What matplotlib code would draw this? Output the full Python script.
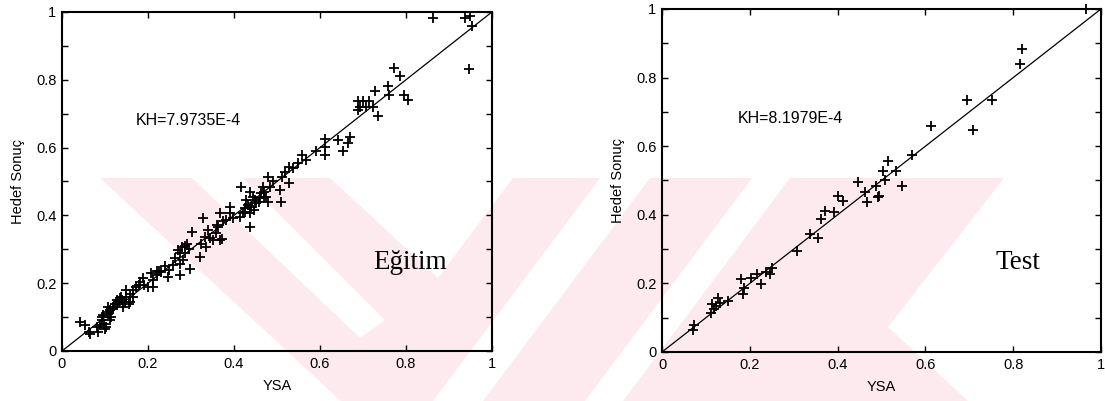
import matplotlib
matplotlib.use('Agg')
import matplotlib.pyplot as plt
from matplotlib.patches import Polygon
from matplotlib.ticker import MultipleLocator, FuncFormatter

# Egitim (training) set: network output (YSA) vs target (Hedef Sonuc)
egitim_ysa = [0.862, 0.938, 0.949, 0.954, 0.946, 0.772, 0.785, 0.758, 0.761, 0.727,
              0.796, 0.804, 0.688, 0.700, 0.715, 0.692, 0.707, 0.723, 0.688, 0.734,
              0.611, 0.611, 0.611, 0.642, 0.669, 0.665, 0.653, 0.591, 0.559, 0.568,
              0.548, 0.537, 0.529, 0.518, 0.529, 0.512, 0.479, 0.491, 0.483, 0.467,
              0.471, 0.463, 0.475, 0.460, 0.506, 0.510, 0.479, 0.417, 0.437, 0.444,
              0.429, 0.448, 0.432, 0.440, 0.425, 0.452, 0.421, 0.437, 0.446, 0.437,
              0.390, 0.390, 0.382, 0.398, 0.367, 0.375, 0.363, 0.359, 0.367, 0.351,
              0.339, 0.328, 0.332, 0.344, 0.324, 0.336, 0.303, 0.320, 0.290, 0.279,
              0.275, 0.286, 0.282, 0.270, 0.262, 0.275, 0.258, 0.250, 0.274, 0.247,
              0.297, 0.231, 0.220, 0.208, 0.212, 0.200, 0.212, 0.220, 0.189, 0.181,
              0.173, 0.166, 0.158, 0.150, 0.146, 0.135, 0.131, 0.123, 0.143, 0.119,
              0.107, 0.104, 0.096, 0.111, 0.092, 0.088, 0.100, 0.084, 0.042, 0.053,
              0.063, 0.065, 0.150, 0.158, 0.166, 0.127, 0.111, 0.115, 0.140, 0.155,
              0.097, 0.102, 0.108, 0.470, 0.458, 0.425, 0.415, 0.360, 0.372, 0.295,
              0.285, 0.240, 0.226, 0.190, 0.180, 0.137, 0.128, 0.118, 0.093, 0.081]
egitim_hedef = [0.981, 0.981, 0.987, 0.958, 0.833, 0.835, 0.810, 0.782, 0.756, 0.768,
                0.756, 0.739, 0.736, 0.736, 0.736, 0.721, 0.721, 0.721, 0.711, 0.692,
                0.625, 0.603, 0.578, 0.623, 0.632, 0.614, 0.589, 0.589, 0.578, 0.564,
                0.554, 0.539, 0.544, 0.529, 0.497, 0.514, 0.514, 0.500, 0.485, 0.485,
                0.470, 0.465, 0.455, 0.450, 0.475, 0.440, 0.440, 0.485, 0.470, 0.455,
                0.445, 0.445, 0.431, 0.426, 0.421, 0.436, 0.406, 0.406, 0.416, 0.367,
                0.426, 0.406, 0.386, 0.391, 0.406, 0.382, 0.367, 0.347, 0.327, 0.327,
                0.357, 0.391, 0.337, 0.332, 0.317, 0.307, 0.352, 0.278, 0.317, 0.307,
                0.288, 0.288, 0.268, 0.298, 0.273, 0.258, 0.253, 0.238, 0.224, 0.219,
                0.243, 0.234, 0.224, 0.229, 0.209, 0.189, 0.189, 0.236, 0.214, 0.204,
                0.189, 0.179, 0.169, 0.160, 0.145, 0.155, 0.145, 0.140, 0.130, 0.130,
                0.130, 0.115, 0.105, 0.091, 0.091, 0.076, 0.066, 0.056, 0.086, 0.076,
                0.056, 0.051, 0.179, 0.145, 0.160, 0.150, 0.120, 0.100, 0.150, 0.140,
                0.080, 0.070, 0.110, 0.455, 0.440, 0.410, 0.395, 0.372, 0.330, 0.300,
                0.310, 0.250, 0.235, 0.196, 0.195, 0.160, 0.138, 0.125, 0.100, 0.070]

# Test set
test_ysa = [0.966, 0.820, 0.815, 0.695, 0.752, 0.709, 0.612, 0.570, 0.515, 0.503,
            0.534, 0.546, 0.446, 0.462, 0.467, 0.487, 0.491, 0.495, 0.507, 0.401,
            0.412, 0.372, 0.392, 0.363, 0.337, 0.355, 0.307, 0.245, 0.251, 0.238,
            0.216, 0.202, 0.180, 0.225, 0.186, 0.184, 0.150, 0.131, 0.127, 0.115,
            0.119, 0.111, 0.123, 0.074, 0.071]
test_hedef = [1.000, 0.882, 0.839, 0.734, 0.734, 0.646, 0.660, 0.573, 0.558, 0.529,
              0.529, 0.483, 0.497, 0.465, 0.438, 0.485, 0.451, 0.456, 0.500, 0.456,
              0.441, 0.412, 0.407, 0.387, 0.345, 0.331, 0.295, 0.226, 0.246, 0.234,
              0.228, 0.217, 0.212, 0.197, 0.187, 0.168, 0.148, 0.143, 0.158, 0.139,
              0.124, 0.114, 0.134, 0.080, 0.065]

egitim_kh = 'KH=7.9735E-4'
test_kh = 'KH=8.1979E-4'

W, H = 1105, 401
PINK = '#fdeaee'

plt.rcParams['font.family'] = ['Liberation Sans', 'DejaVu Sans']


def px(points):
    # image pixel coords (y down) -> figure fraction
    return [(x / W, 1 - y / H) for x, y in points]


def add_watermark(fig):
    # faint pink stripes of the scanned page's watermark (decoration only)
    pink = [(100, 178), (1004, 178), (888, 327), (968, 401), (341, 401)]
    holes = [
        [(192, 178), (243, 178), (385, 320), (360, 338)],
        [(330, 178), (513, 178), (438, 278)],
        [(600, 178), (650, 178), (483, 401), (433, 401)],
        [(752, 178), (790, 178), (623, 401), (585, 401)],
    ]
    fig.patches.append(Polygon(px(pink), closed=True, transform=fig.transFigure,
                               facecolor=PINK, edgecolor='none', zorder=-2))
    for h in holes:
        fig.patches.append(Polygon(px(h), closed=True, transform=fig.transFigure,
                                   facecolor='white', edgecolor='none', zorder=-1))


def draw_panel(ax, ysa, hedef, kh, name):
    ax.set_facecolor('none')
    ax.plot([0, 1], [0, 1], color='black', lw=0.9)
    ax.plot(ysa, hedef, '+', color='black', ms=7, mew=1.3, clip_on=False)
    ax.set_xlim(0, 1)
    ax.set_ylim(0, 1)
    ax.xaxis.set_major_locator(MultipleLocator(0.2))
    ax.yaxis.set_major_locator(MultipleLocator(0.2))
    ax.yaxis.set_minor_locator(MultipleLocator(0.1))
    fmt = FuncFormatter(lambda v, p: f'{v:g}')
    ax.xaxis.set_major_formatter(fmt)
    ax.yaxis.set_major_formatter(fmt)
    ax.tick_params(which='both', direction='in', top=True, right=True,
                   length=4, width=1.0, labelsize=10.5, colors='black', pad=4)
    for s in ax.spines.values():
        s.set_linewidth(1.5)
    ax.set_xlabel('YSA', fontsize=10.5, labelpad=6)
    ax.set_ylabel('Hedef Sonuç', fontsize=10.5, labelpad=8)
    ax.text(0.172, 0.68, kh, fontsize=11.5, va='center', ha='left')
    ax.text(0.81, 0.26, name, fontsize=19.5, va='center', ha='center',
            family='Liberation Serif')


fig = plt.figure(figsize=(W / 100, H / 100), dpi=100)
add_watermark(fig)
ax1 = fig.add_axes([0.0561, 0.1247, 0.3891, 0.8454])
ax2 = fig.add_axes([0.5991, 0.1222, 0.3973, 0.8554])

draw_panel(ax1, egitim_ysa, egitim_hedef, egitim_kh, 'Eğitim')
draw_panel(ax2, test_ysa, test_hedef, test_kh, 'Test')

fig.savefig('out.png', dpi=100)
